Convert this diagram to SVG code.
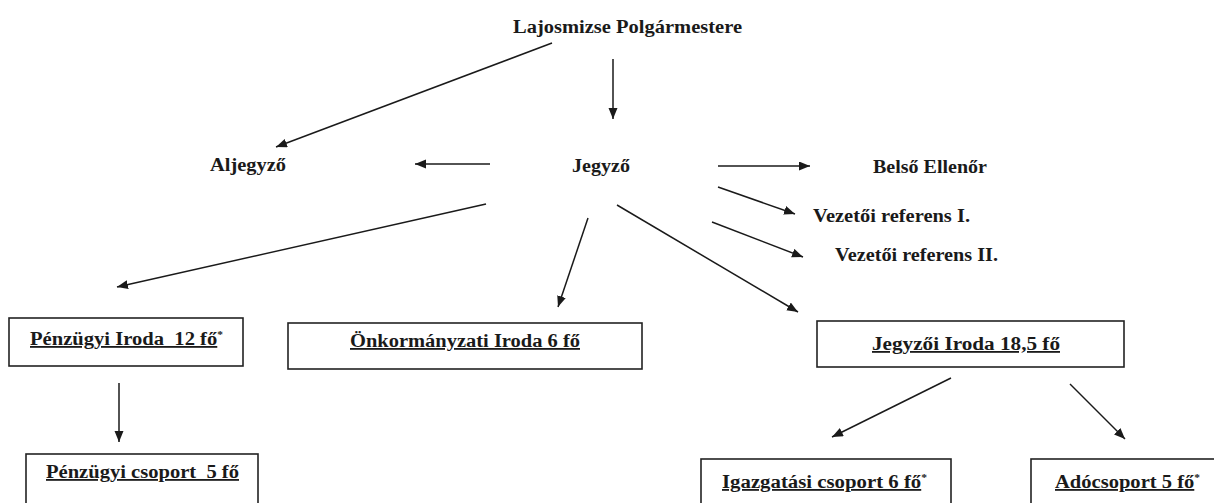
<svg xmlns="http://www.w3.org/2000/svg" width="1214" height="503" viewBox="0 0 1214 503">
  <style>
    text { font-family: "Liberation Serif", "Times New Roman", serif; font-weight: bold; font-size: 18px; fill: #1a1a1a; white-space: pre; }
    .u { text-decoration: underline; }
    .box { fill: none; stroke: #222; stroke-width: 1.6; }
    .conn line { stroke: #1a1a1a; stroke-width: 1.5; marker-end: url(#arr); }
    .sup { font-size: 10px; }
  </style>
  <defs>
    <marker id="arr" markerUnits="userSpaceOnUse" markerWidth="12" markerHeight="10" refX="11" refY="4.5" orient="auto">
      <path d="M0,0 L11,4.5 L0,9 z" fill="#1a1a1a"/>
    </marker>
  </defs>
  <rect width="1214" height="503" fill="#ffffff"/>

  <g id="connectors" class="conn">
    <line x1="552" y1="43" x2="276" y2="147"/>
    <line x1="613" y1="59" x2="613" y2="119"/>
    <line x1="490" y1="164" x2="415" y2="164"/>
    <line x1="718" y1="166" x2="810" y2="166"/>
    <line x1="718" y1="187" x2="795" y2="214"/>
    <line x1="712" y1="222" x2="803" y2="257"/>
    <line x1="486" y1="204" x2="117" y2="287"/>
    <line x1="588" y1="218" x2="558" y2="307"/>
    <line x1="617" y1="205" x2="798" y2="312"/>
    <line x1="119" y1="383" x2="119" y2="442"/>
    <line x1="951" y1="378" x2="832" y2="437"/>
    <line x1="1070" y1="384" x2="1125" y2="439"/>
  </g>

  <g id="polgarmester">
    <text x="513" y="33" textLength="229" lengthAdjust="spacingAndGlyphs">Lajosmizse Polgármestere</text>
  </g>
  <g id="aljegyzo">
    <text x="210" y="171" textLength="76" lengthAdjust="spacingAndGlyphs">Aljegyző</text>
  </g>
  <g id="jegyzo">
    <text x="572" y="172" textLength="58" lengthAdjust="spacingAndGlyphs">Jegyző</text>
  </g>
  <g id="belso-ellenor">
    <text x="873" y="173" textLength="114" lengthAdjust="spacingAndGlyphs">Belső Ellenőr</text>
  </g>
  <g id="vezetoi-referens-1">
    <text x="813" y="222" textLength="157" lengthAdjust="spacingAndGlyphs">Vezetői referens I.</text>
  </g>
  <g id="vezetoi-referens-2">
    <text x="835" y="261" textLength="163" lengthAdjust="spacingAndGlyphs">Vezetői referens II.</text>
  </g>

  <g id="penzugyi-iroda">
    <rect class="box" x="9" y="318" width="234" height="48"/>
    <text x="30" y="345" textLength="193" lengthAdjust="spacingAndGlyphs"><tspan class="u">Pénzügyi Iroda  12 fő</tspan><tspan class="sup" dy="-7">*</tspan></text>
  </g>
  <g id="onkormanyzati-iroda">
    <rect class="box" x="288" y="323" width="354" height="46"/>
    <text class="u" x="350" y="347" textLength="230" lengthAdjust="spacingAndGlyphs">Önkormányzati Iroda 6 fő</text>
  </g>
  <g id="jegyzoi-iroda">
    <rect class="box" x="817" y="321" width="307" height="46"/>
    <text class="u" x="872" y="350" textLength="188" lengthAdjust="spacingAndGlyphs">Jegyzői Iroda 18,5 fő</text>
  </g>
  <g id="penzugyi-csoport">
    <rect class="box" x="26" y="454" width="232" height="70"/>
    <text class="u" x="46" y="478" textLength="193" lengthAdjust="spacingAndGlyphs">Pénzügyi csoport  5 fő</text>
  </g>
  <g id="igazgatasi-csoport">
    <rect class="box" x="701" y="459" width="250" height="70"/>
    <text x="722" y="488" textLength="205" lengthAdjust="spacingAndGlyphs"><tspan class="u">Igazgatási csoport 6 fő</tspan><tspan class="sup" dy="-7">*</tspan></text>
  </g>
  <g id="adocsoport">
    <rect class="box" x="1031" y="459" width="220" height="70"/>
    <text x="1055" y="488" textLength="145" lengthAdjust="spacingAndGlyphs"><tspan class="u">Adócsoport 5 fő</tspan><tspan class="sup" dy="-7">*</tspan></text>
  </g>
</svg>
